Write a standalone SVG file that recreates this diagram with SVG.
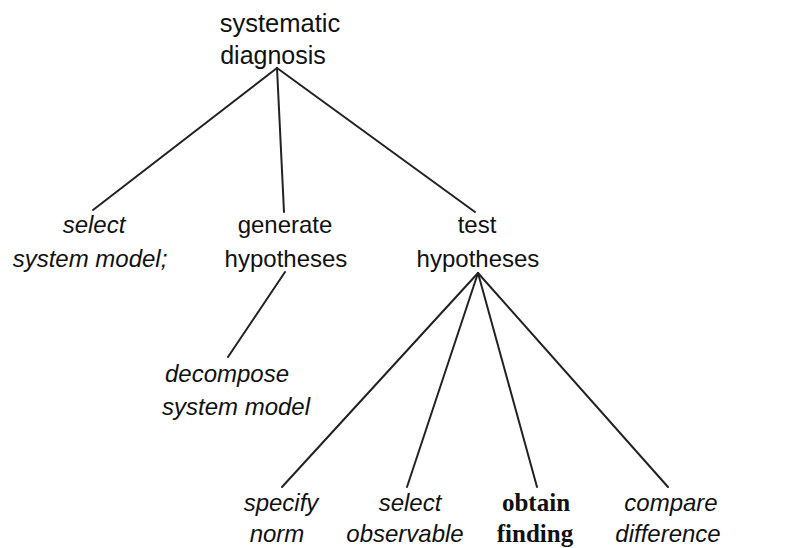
<svg xmlns="http://www.w3.org/2000/svg" width="799" height="548" viewBox="0 0 799 548">
<style>
text{font-family:"Liberation Sans",Arial,sans-serif;font-size:24px;fill:#111;text-anchor:middle}
.i{font-style:italic}
.b{font-family:"Liberation Serif","Times New Roman",serif;font-weight:bold;font-size:25px}
.c line{stroke:#222;stroke-width:2;stroke-linecap:round}
</style>
<rect width="799" height="548" fill="#fff"/>
<g class="c" id="connectors">
<line x1="277" y1="68" x2="93" y2="210"/>
<line x1="277" y1="68" x2="284" y2="212"/>
<line x1="277" y1="68" x2="475" y2="212"/>
<line x1="285" y1="272" x2="228" y2="357"/>
<line x1="478" y1="273" x2="282" y2="487"/>
<line x1="478" y1="273" x2="407" y2="487"/>
<line x1="478" y1="273" x2="537" y2="487"/>
<line x1="478" y1="273" x2="668" y2="487"/>
</g>
<g id="root"><text x="280" y="32" style="font-size:25.5px">systematic</text><text x="273" y="64" style="font-size:25px">diagnosis</text></g>
<g id="select-model"><text class="i" x="94" y="233">select</text><text class="i" x="90" y="267">system model;</text></g>
<g id="generate"><text x="285" y="233">generate</text><text x="286" y="267">hypotheses</text></g>
<g id="test"><text x="477" y="233">test</text><text x="478" y="267">hypotheses</text></g>
<g id="decompose"><text class="i" x="227" y="382">decompose</text><text class="i" x="236" y="415">system model</text></g>
<g id="specify"><text class="i" x="281" y="511">specify</text><text class="i" x="277" y="542">norm</text></g>
<g id="observable"><text class="i" x="410" y="511">select</text><text class="i" x="405" y="542">observable</text></g>
<g id="obtain"><text class="b" x="536" y="511">obtain</text><text class="b" x="535" y="542">finding</text></g>
<g id="compare"><text class="i" x="671" y="511">compare</text><text class="i" x="668" y="542">difference</text></g>
</svg>
